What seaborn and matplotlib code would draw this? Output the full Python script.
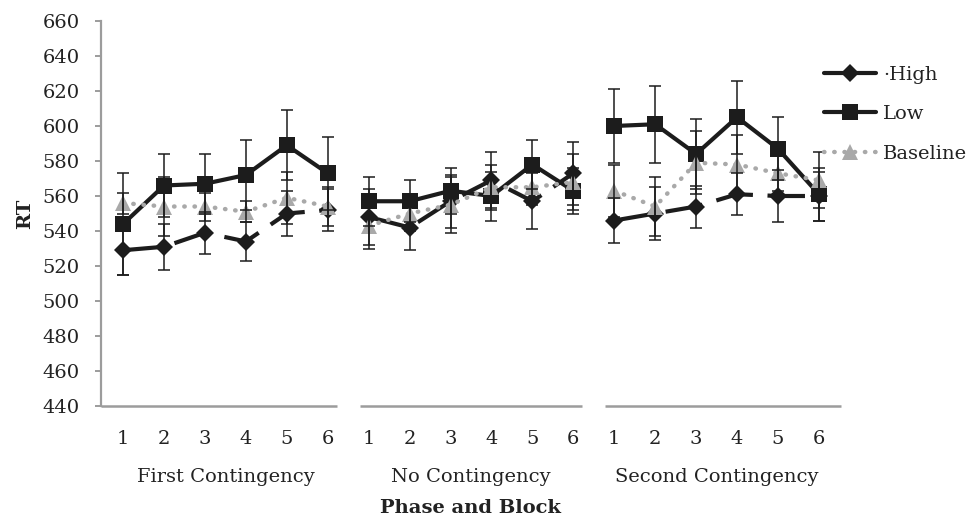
import numpy as np
import pandas as pd
import matplotlib
matplotlib.use("Agg")
import matplotlib.pyplot as plt
from matplotlib.lines import Line2D
from matplotlib.transforms import blended_transform_factory
import seaborn as sns

# ---------------- data ----------------
phases = ["First Contingency", "No Contingency", "Second Contingency"]
blocks = [1, 2, 3, 4, 5, 6]
series = ["High", "Low", "Baseline"]

high_rt = [529, 531, 539, 534, 550, 552,
           548, 542, 557, 569, 557, 573,
           546, 550, 554, 561, 560, 560]
high_err = [14, 13, 12, 11, 13, 12,
            16, 13, 15, 16, 16, 18,
            13, 15, 12, 12, 15, 14]

low_rt = [544, 566, 567, 572, 589, 573,
          557, 557, 563, 560, 578, 563,
          600, 601, 584, 605, 587, 561]
low_err = [29, 18, 17, 20, 20, 21,
           14, 12, 13, 14, 14, 13,
           21, 22, 20, 21, 18, 15]

base_rt = [556, 554, 554, 551, 559, 554,
           543, 550, 555, 565, 565, 568,
           563, 554, 579, 578, 573, 569]
base_err = [6, 17, 8, 6, 15, 11,
            13, 10, 16, 13, 10, 16,
            15, 17, 18, 17, 10, 16]

yticks = list(range(440, 661, 20))

# ---------------- table ----------------
rows = []
for s, vals, errs in [("High", high_rt, high_err), ("Low", low_rt, low_err),
                      ("Baseline", base_rt, base_err)]:
    for i, (v, e) in enumerate(zip(vals, errs)):
        rows.append({"pos": i, "Phase": phases[i // 6], "Block": blocks[i % 6],
                     "Series": s, "RT": v, "err": e})
df = pd.DataFrame(rows)

# ---------------- style ----------------
sns.set_theme(style="white")
plt.rcParams["font.family"] = ["DejaVu Serif"]

black = "#1c1c1c"
gray_line = "#a9a9a9"
axis_gray = "#9c9c9c"
text_col = "#222222"
fs = 14

fig = plt.figure(figsize=(9.69, 5.21), dpi=100)
ax = fig.add_axes([101 / 969, 1 - 406 / 521, 740 / 969, 385 / 521])

palette = {"High": black, "Low": black, "Baseline": gray_line}
markers = {"High": "D", "Low": "s", "Baseline": "^"}
dashes = {"High": (9, 3.5), "Low": "", "Baseline": (0.1, 2.2)}

sns.lineplot(data=df, x="pos", y="RT", hue="Series", style="Series",
             units="Phase", estimator=None, hue_order=series, style_order=series,
             palette=palette, markers=markers, dashes=dashes, linewidth=3,
             markersize=10, markeredgewidth=0, legend=False, ax=ax, zorder=3)

for ln in ax.get_lines():
    if matplotlib.colors.to_hex(ln.get_color()) == gray_line:
        ln.set_dash_capstyle("round")
        ln.set_linewidth(3.2)
        ln.set_markersize(12)
    if ln.get_marker() == "D":
        ln.set_markersize(9)
    if ln.get_marker() == "s":
        ln.set_markersize(11)

for s in series:
    d = df[df["Series"] == s]
    ax.errorbar(d["pos"], d["RT"], yerr=d["err"], fmt="none", ecolor=black,
                elinewidth=1.1, capsize=4, capthick=1.1, zorder=4)

# ---------------- axes ----------------
ax.set_xlim(-0.54, 17.54)
ax.set_ylim(440, 660)
ax.set_yticks(yticks)
ax.set_xticks(df["pos"].unique())
ax.set_xticklabels([str(b) for b in blocks] * 3)
for sp in ["top", "right", "bottom"]:
    ax.spines[sp].set_visible(False)
ax.spines["left"].set_color(axis_gray)
ax.spines["left"].set_linewidth(1.6)
ax.tick_params(axis="y", left=True, length=4.5, width=1.4, color=axis_gray,
               pad=11, labelsize=fs, labelcolor=text_col)
ax.tick_params(axis="x", bottom=False, length=0, pad=17, labelsize=fs,
               labelcolor=text_col)

# broken x-axis line per phase
half_gap = 0.28
for g in range(3):
    lo = ax.get_xlim()[0] if g == 0 else (6 * g - 1 + 6 * g) / 2 + half_gap
    hi = ax.get_xlim()[1] if g == 2 else (6 * g + 5 + 6 * g + 6) / 2 - half_gap
    ax.plot([lo, hi], [440, 440], color=axis_gray, lw=1.8, clip_on=False,
            solid_capstyle="butt", zorder=2)

# phase labels
trans = blended_transform_factory(ax.transData, ax.transAxes)
for g, name in enumerate(phases):
    ax.text(6 * g + 2.5, -0.184, name, transform=trans, ha="center", va="center",
            fontsize=fs, color=text_col)

ax.set_xlabel("Phase and Block", fontsize=fs, fontweight="bold", color=text_col)
ax.xaxis.set_label_coords(0.4986, -0.265)
ax.xaxis.label.set_va("center")
ax.set_ylabel("RT", fontsize=fs, fontweight="bold", color=text_col)
ax.yaxis.set_label_coords(-0.090, 0.5)

# legend
handles = [
    Line2D([], [], color=black, lw=3, marker="D", markersize=9, markeredgewidth=0),
    Line2D([], [], color=black, lw=3, marker="s", markersize=11, markeredgewidth=0),
    Line2D([], [], color=gray_line, lw=3.2, linestyle=(0, (0.1, 2.2)),
           dash_capstyle="round", marker="^", markersize=12, markeredgewidth=0),
]
labels = ["\u00b7High", "Low", "Baseline"]
leg = ax.legend(handles, labels, loc="upper left",
                bbox_to_anchor=(816 / 969, 1 - 58 / 521), bbox_transform=fig.transFigure,
                frameon=False, fontsize=fs, handlelength=2.7, handletextpad=0.35,
                labelspacing=1.1, borderaxespad=0)
for t in leg.get_texts():
    t.set_color(text_col)

fig.savefig("out.png", dpi=100, facecolor="white")
